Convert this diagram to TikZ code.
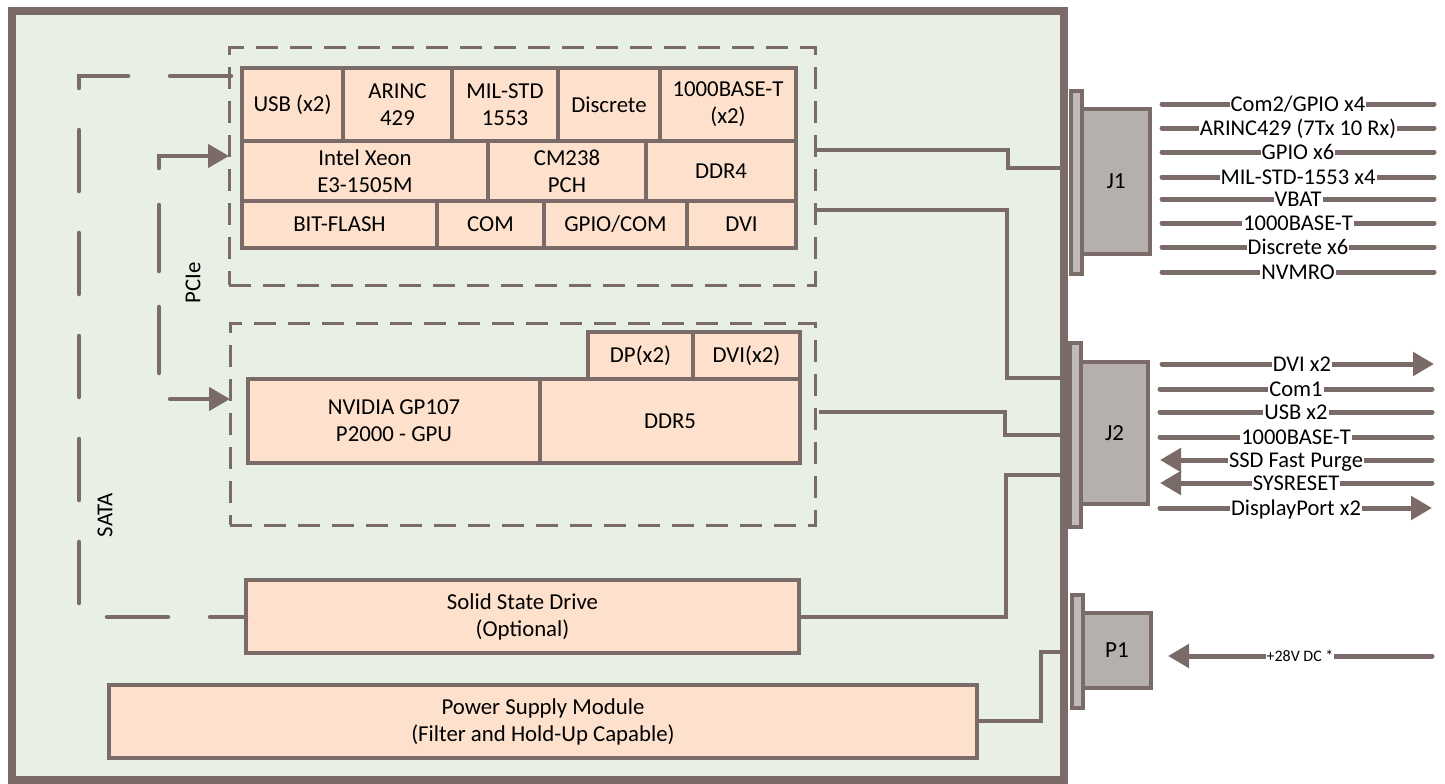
\documentclass[tikz,border=0pt]{standalone}
\usepackage{fontspec}
\setmainfont{Carlito}
\usetikzlibrary{arrows.meta}
\definecolor{ln}{HTML}{7A6A68}
\definecolor{bg}{HTML}{E8EFE5}
\definecolor{pch}{HTML}{FDE1CC}
\definecolor{cg}{HTML}{B5AFAE}
\definecolor{cgl}{HTML}{C0BABA}
\begin{document}
\begin{tikzpicture}[x=1pt,y=-1pt,
  blk/.style={draw=ln, fill=pch, line width=4pt, anchor=north west, outer sep=0pt, inner sep=0pt, align=center, font=\fontsize{22.8}{27}\selectfont, text=black},
  dbox/.style={draw=ln, line width=3pt, dash pattern=on 22pt off 12pt, anchor=north west, outer sep=0pt, inner sep=0pt},
  wire/.style={draw=ln, line width=4pt},
  busl/.style={draw=ln, line width=4.5pt, line cap=round},
  sig/.style={draw=ln, line width=5pt, line cap=round},
  slab/.style={fill=white, inner xsep=1pt, inner ysep=3pt, text height=14.5pt, text depth=0pt, font=\fontsize{22.5}{24}\selectfont, text=black},
  conn/.style={draw=ln, fill=cg, line width=4pt, anchor=north west, outer sep=0pt, inner sep=0pt, font=\fontsize{23}{25}\selectfont, text=black},
  plate/.style={draw=ln, fill=cgl, line width=3.5pt, anchor=north west, outer sep=0pt, inner sep=0pt},
  tip/.style={-{Triangle[length=21pt,width=23pt]}},
  rtip/.style={{Triangle[length=21pt,width=23pt]}-},
  vlab/.style={rotate=90, font=\fontsize{22.8}{25}\selectfont, text=black},
]
\useasboundingbox (0,0) rectangle (1445,784);
\fill[white] (0,0) rectangle (1445,784);

% frame
\node[draw=ln, fill=bg, line width=8pt, minimum width=1052pt, minimum height=769pt, anchor=north west, outer sep=0pt] (frame) at (12,11) {};

% dashed areas
\node[dbox, minimum width=586pt, minimum height=237pt] (cpuarea) at (229,48) {};
\node[dbox, minimum width=585pt, minimum height=202pt] (gpuarea) at (230,323) {};

% CPU blocks
\node[blk, minimum width=101pt, minimum height=73pt] (usb) at (242,68) {USB (x2)};
\node[blk, minimum width=109pt, minimum height=73pt] (arinc) at (343,68) {ARINC\\429};
\node[blk, minimum width=106pt, minimum height=73pt] (mil) at (452,68) {MIL-STD\\1553};
\node[blk, minimum width=102pt, minimum height=73pt] (disc) at (558,68) {Discrete};
\node[blk, minimum width=136pt, minimum height=73pt] (gbe) at (660,68) {1000BASE-T\\(x2)};
\node[blk, minimum width=246pt, minimum height=60pt] (xeon) at (242,141) {Intel Xeon\\E3-1505M};
\node[blk, minimum width=158pt, minimum height=60pt] (pch) at (488,141) {CM238\\PCH};
\node[blk, minimum width=150pt, minimum height=60pt] (ddrfour) at (646,141) {DDR4};
\node[blk, minimum width=195pt, minimum height=47pt] (bit) at (242,201) {BIT-FLASH};
\node[blk, minimum width=107pt, minimum height=47pt] (com) at (437,201) {COM};
\node[blk, minimum width=143pt, minimum height=47pt] (gpio) at (544,201) {GPIO/COM};
\node[blk, minimum width=109pt, minimum height=47pt] (dvi) at (687,201) {DVI};

% GPU blocks
\node[blk, minimum width=105pt, minimum height=47pt] (dp) at (588,332) {DP(x2)};
\node[blk, minimum width=107pt, minimum height=47pt] (dvitwo) at (693,332) {DVI(x2)};
\node[blk, minimum width=292pt, minimum height=84pt] (gpu) at (248,379) {NVIDIA GP107\\P2000 - GPU};
\node[blk, minimum width=260pt, minimum height=84pt] (ddrfive) at (540,379) {DDR5};

% SSD, PSM
\node[blk, minimum width=553pt, minimum height=73pt] (ssd) at (246,580) {Solid State Drive\\(Optional)};
\node[blk, minimum width=868pt, minimum height=73pt] (psm) at (109,685) {Power Supply Module\\(Filter and Hold-Up Capable)};

% connectors
\node[plate, minimum width=11pt, minimum height=183pt] (jonep) at (1071,91) {};
\node[conn, minimum width=68pt, minimum height=145pt] (jone) at (1082,109) {J1};
\node[plate, minimum width=11pt, minimum height=184pt] (jtwop) at (1070,343) {};
\node[conn, minimum width=67pt, minimum height=142pt] (jtwo) at (1081,362) {J2};
\node[plate, minimum width=11pt, minimum height=113pt] (ponep) at (1072,595) {};
\node[conn, minimum width=68pt, minimum height=75pt] (pone) at (1083,613) {P1};

% internal wires
\draw[wire] (815,150) -- (1008,150) -- (1008,168) -- (1064,168);
\draw[wire] (815,210) -- (1007,210) -- (1007,378) -- (1064,378);
\draw[wire] (819,412) -- (1005,412) -- (1005,435) -- (1064,435);
\draw[wire] (ssd.east |- 0,617) -- (1006,617) -- (1006,475) -- (1064,475);
\draw[wire] (psm.east |- 0,721) -- (1041,721) -- (1041,652) -- (1064,652);

% PCIe bus
\draw[busl, tip] (159,168) -- (159,156) -- (cpuarea.west |- 0,156);
\draw[busl] (159,205) -- (159,271);
\draw[busl] (159,307) -- (159,373);
\draw[busl, tip] (170,399) -- (gpuarea.west |- 0,399);
\node[vlab] (pcie) at (193,283) {PCIe};

% SATA bus
\draw[busl, dash pattern=on 61pt off 42pt] (231,76) -- (79,76) -- (79,617) -- (ssd.west |- 0,617);
\node[vlab] (sata) at (105,515) {SATA};

% J1 signals
\foreach \yy/\txt [count=\i] in {104/{Com2/GPIO x4}, 128/{ARINC429 (7Tx 10 Rx)}, 152/{GPIO x6}, 177/{MIL-STD-1553 x4}, 199/{VBAT}, 223/{1000BASE-T}, 247/{Discrete x6}, 272/{NVMRO}}{
  \coordinate (ja\i) at (1162,\yy);
  \coordinate (jb\i) at (1434,\yy);
  \draw[sig] (ja\i) -- (jb\i) node[midway, slab] {\txt};
}

% J2 signals
\coordinate (ka1) at (1162,364); \coordinate (kb1) at (1434,364);
\draw[sig, tip] (ka1) -- (kb1) node[midway, slab, xshift=4pt] {DVI x2};
\coordinate (ka2) at (1160,389); \coordinate (kb2) at (1432,389);
\draw[sig] (ka2) -- (kb2) node[midway, slab] {Com1};
\coordinate (ka3) at (1160,412); \coordinate (kb3) at (1432,412);
\draw[sig] (ka3) -- (kb3) node[midway, slab] {USB x2};
\coordinate (ka4) at (1160,437); \coordinate (kb4) at (1432,437);
\draw[sig] (ka4) -- (kb4) node[midway, slab] {1000BASE-T};
\coordinate (ka5) at (1160,460); \coordinate (kb5) at (1432,460);
\draw[sig, rtip] (ka5) -- (kb5) node[midway, slab] {SSD Fast Purge};
\coordinate (ka6) at (1160,483); \coordinate (kb6) at (1432,483);
\draw[sig, rtip] (ka6) -- (kb6) node[midway, slab] {SYSRESET};
\coordinate (ka7) at (1160,508); \coordinate (kb7) at (1432,508);
\draw[sig, tip] (ka7) -- (kb7) node[midway, slab] {DisplayPort x2};

% P1 signal
\coordinate (pa) at (1168,656); \coordinate (pb) at (1432,656);
\draw[sig, rtip] (pa) -- (pb) node[pos=0.5, slab, font=\fontsize{16}{18}\selectfont, text height=10pt, inner ysep=2pt] {+28V DC *};
\end{tikzpicture}
\end{document}
